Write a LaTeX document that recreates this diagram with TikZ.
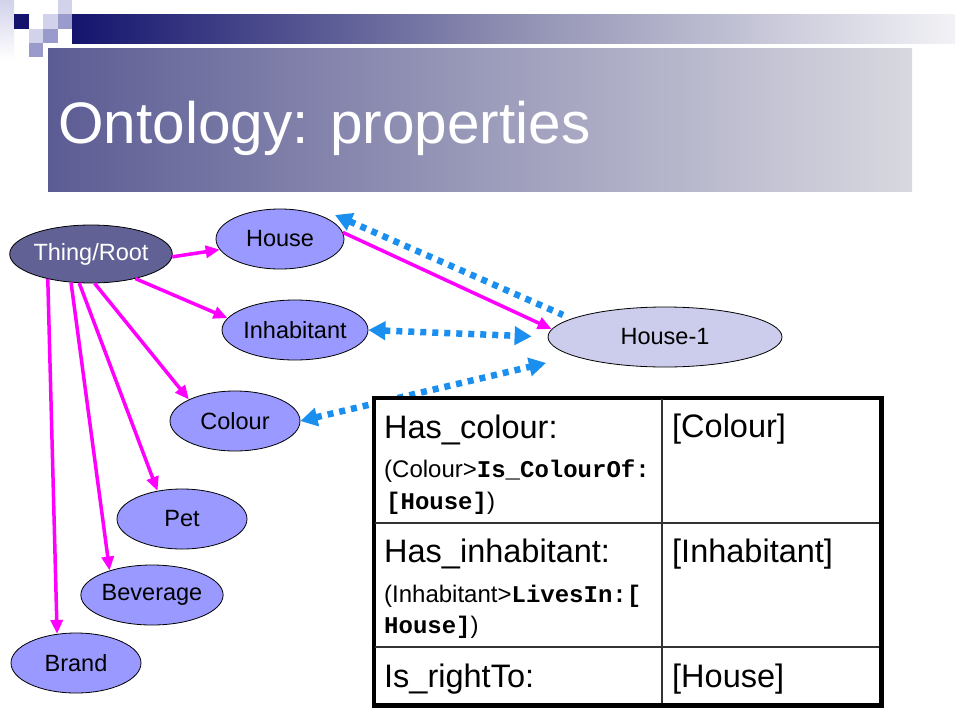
\documentclass[tikz,border=0pt]{standalone}
\usepackage{fontspec}
\setmainfont{Liberation Sans}
\setmonofont{Liberation Mono}
\usetikzlibrary{shapes.geometric,arrows.meta,calc}
\definecolor{navyc}{HTML}{14146E}
\definecolor{barmid}{HTML}{8C8CB0}
\definecolor{barend}{HTML}{F2F2F6}
\definecolor{lavl}{HTML}{D2D2EA}
\definecolor{lavm}{HTML}{9A9ACC}
\definecolor{titleL}{HTML}{5C5C94}
\definecolor{titleR}{HTML}{D8D8E0}
\definecolor{rootc}{HTML}{616196}
\definecolor{nodec}{HTML}{9999FF}
\definecolor{instc}{HTML}{CCCCEC}
\definecolor{magc}{HTML}{FF00FF}
\definecolor{bluec}{HTML}{1A8FF0}
\newcommand\ndfont{\fontsize{23.5}{27}\selectfont}
\newcommand\tbig{\fontsize{32.5}{36}\selectfont}
\newcommand\tsmall{\fontsize{24}{28}\selectfont}
\newcommand\ttlfont{\fontsize{58.5}{62}\selectfont}
\newcommand\tcode[1]{{\ttfamily\bfseries #1}}
\begin{document}
\begin{tikzpicture}[x=1pt,y=-1pt,
  ell/.style={ellipse, draw=black, line width=0.8pt, fill=nodec, inner sep=0pt, font=\ndfont, minimum width=130pt, minimum height=60pt},
  isa/.style={draw=magc, line width=3.5pt, -{Triangle[length=14pt,width=12pt]}},
  rel/.style={draw=bluec, line width=6.5pt, dash pattern=on 6pt off 6pt},
  relone/.style={rel, {Triangle[length=17pt,width=18pt]}-},
  reltwo/.style={rel, {Triangle[length=17pt,width=18pt]}-{Triangle[length=17pt,width=18pt]}},
  big/.style={anchor=base west, font=\tbig, inner sep=0pt},
  small/.style={anchor=base west, font=\tsmall, inner sep=0pt},
]
\useasboundingbox (0,0) rectangle (960,720);
\fill[white] (0,0) rectangle (960,720);

% decoration
\shade[top color=lavl, bottom color=white] (0,0) rectangle (14,60);
\fill[navyc] (14,14) rectangle (29,29);
\fill[lavl] (58,0) rectangle (72,14);
\fill[lavl] (43,14) rectangle (58,29);
\fill[lavm] (58,14) rectangle (72,29);
\fill[lavl] (29,29) rectangle (43,43);
\fill[lavm] (43,29) rectangle (58,43);
\fill[lavm] (29,43) rectangle (43,57);
\shade[left color=navyc, right color=barmid] (72,14) rectangle (500,43);
\shade[left color=barmid, right color=barend] (499.5,14) rectangle (955,43);

% title
\shade[left color=titleL, right color=titleR] (48,48) rectangle (912,191);
\node[anchor=base west, inner sep=0pt, text=white, font=\ttlfont] (title) at (58,143) {Ontology: properties};

% nodes
\node[ell, fill=rootc, text=white, minimum width=145pt, minimum height=58pt] (root) at (91,254) {Thing/Root};
\node[ell, minimum width=128pt] (house) at (280,239) {House};
\node[ell, minimum width=128pt] (inhab) at (295,330) {Inhabitant};
\node[ell] (colour) at (235,421) {Colour};
\node[ell] (pet) at (182,519) {Pet};
\node[ell] (bev) at (152,595) {Beverage};
\node[ell] (brand) at (76,663) {Brand};
\node[ell, fill=instc, minimum width=234pt] (h1) at (665,337) {House-1};

% subclass arrows
\draw[isa] (root.-2) -- (house.190);
\draw[isa] (root.-29) -- (inhab.170);
\draw[isa] (root.277) -- (colour.155);
\draw[isa] (root.248) -- (pet.131);
\draw[isa] (root.235) -- (bev.150);
\draw[isa] (root.210) -- (brand.123);
\draw[isa] (house.6) -- (h1.176);

% property arrows
\draw[relone] ($(house.center)+(55,-24)$) -- ($(h1.center)+(-102,-22)$);
\draw[reltwo, shorten >=16pt] (inhab.east) -- (h1.west);
\draw[reltwo, shorten >=29pt] (colour.east) -- (h1.192);

% table
\node[draw=black, line width=3pt, fill=white, minimum width=506pt, minimum height=306pt, inner sep=0pt, anchor=north west] (tab) at (373,397) {};
\draw[line width=1.5pt, black!80] (662,397) -- (662,703);
\draw[line width=1.5pt, black!80] (373,523) -- (879,523);
\draw[line width=1.5pt, black!80] (373,647) -- (879,647);
\draw[line width=3pt] (tab.north west) rectangle (tab.south east);

\node[big] (p1) at (384,438) {Has\_colour:};
\node[small] (p1a) at (384,477) {(Colour>\tcode{Is\_ColourOf:}};
\node[small] (p1b) at (386,509) {\tcode{[House]})};
\node[big] (v1) at (672,437) {[Colour]};

\node[big] (p2) at (384,562) {Has\_inhabitant:};
\node[small] (p2a) at (384,602) {(Inhabitant>\tcode{LivesIn:[}};
\node[small] (p2b) at (384,633) {\tcode{House]})};
\node[big] (v2) at (672,562) {[Inhabitant]};

\node[big] (p3) at (384,687) {Is\_rightTo:};
\node[big] (v3) at (672,687) {[House]};
\end{tikzpicture}
\end{document}
